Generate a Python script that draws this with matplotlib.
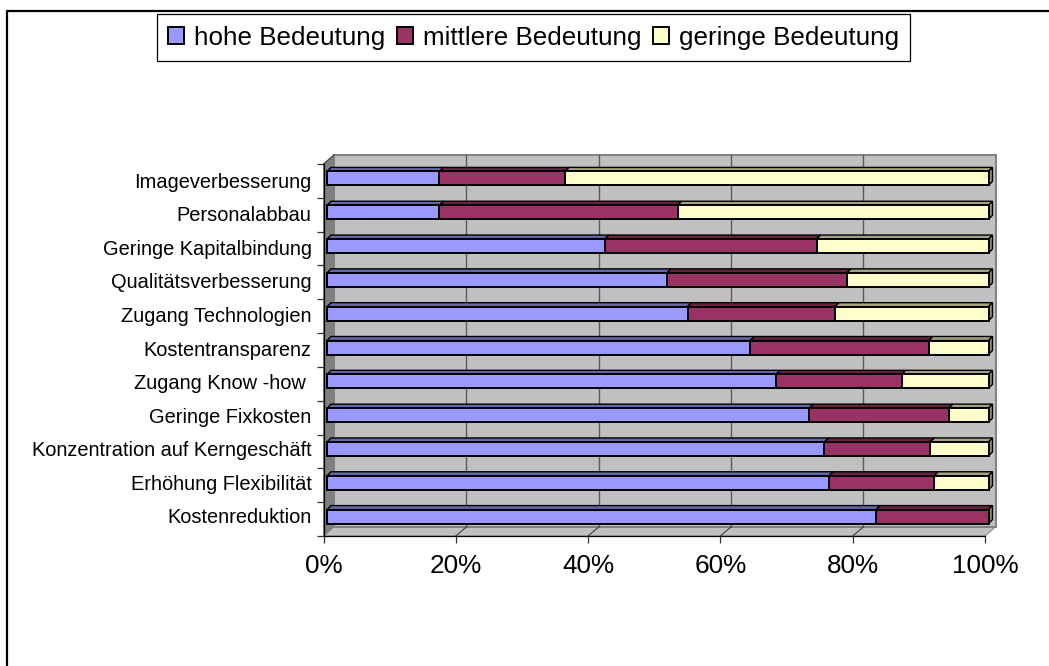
import matplotlib
matplotlib.use("Agg")
import matplotlib.pyplot as plt
from matplotlib.lines import Line2D
from matplotlib.patches import Polygon, Rectangle
from matplotlib.transforms import ScaledTranslation
from matplotlib.ticker import FixedLocator, FixedFormatter
import numpy as np

plt.rcParams['font.family'] = ['Liberation Sans', 'DejaVu Sans']

categories = ["Kostenreduktion", "Erhöhung Flexibilität", "Konzentration auf Kerngeschäft",
              "Geringe Fixkosten", "Zugang Know -how ", "Kostentransparenz",
              "Zugang Technologien", "Qualitätsverbesserung", "Geringe Kapitalbindung",
              "Personalabbau", "Imageverbesserung"]
hohe =     [83, 75.9, 75.2, 72.9, 67.9, 64, 54.5, 51.4, 42, 17, 17]
mittlere = [17, 15.9, 16, 21.1, 19, 27, 22.3, 27.2, 32, 36, 19]
geringe =  [0, 8.2, 8.8, 6, 13.1, 9, 23.2, 21.4, 26, 47, 64]
series_names = ["hohe Bedeutung", "mittlere Bedeutung", "geringe Bedeutung"]
x_ticks = [0, 20, 40, 60, 80, 100]
x_labels = ["0%", "20%", "40%", "60%", "80%", "100%"]

W, H = 1049, 666
fig = plt.figure(figsize=(W / 100, H / 100), dpi=100, facecolor="white")

# outer frame
fig.add_artist(Line2D([6.5 / W, 6.5 / W, 1], [0, 1 - 10.5 / H, 1 - 10.5 / H],
                      color="black", lw=1.6, transform=fig.transFigure))

L, R, T, B = 323.5, 985.0, 164.0, 536.0
ax = fig.add_axes([L / W, 1 - B / H, (R - L) / W, (B - T) / H])
ax.set_xlim(0, 100)
ax.set_ylim(-0.5, len(categories) - 0.5)
ax.patch.set_visible(False)
for s in ("top", "right"):
    ax.spines[s].set_visible(False)
for s in ("left", "bottom"):
    ax.spines[s].set_linewidth(0.9)
    ax.spines[s].set_zorder(6)

ux = 100 / (R - L)
uy = len(categories) / (B - T)
wall_dx, wall_dy = 10.5 * ux, 9.0 * uy
y0, y1 = -0.5, len(categories) - 0.5

# walls and floor
ax.add_patch(Polygon([(0, y0), (wall_dx, y0 + wall_dy), (wall_dx, y1 + wall_dy), (0, y1)],
                     closed=True, fc="#808080", ec="#808080", lw=0.7, clip_on=False, zorder=1))
ax.add_patch(Polygon([(0, y0), (wall_dx, y0 + wall_dy), (100 + wall_dx, y0 + wall_dy), (100, y0)],
                     closed=True, fc="#c0c0c0", ec="#808080", lw=0.7, clip_on=False, zorder=1))
ax.add_patch(Rectangle((wall_dx, y0 + wall_dy), 100, y1 - y0, fc="#c0c0c0", ec="#808080",
                       lw=1.4, clip_on=False, zorder=1))
for t in x_ticks[1:-1]:
    ax.plot([t + wall_dx, t + wall_dx], [y0 + wall_dy, y1 + wall_dy], color="#5a5a5a", lw=1.0,
            clip_on=False, zorder=2)
    ax.plot([t, t + wall_dx], [y0, y0 + wall_dy], color="#404040", lw=0.8, clip_on=False, zorder=2)
ax.plot([0, wall_dx], [y1, y1 + wall_dy], color="#404040", lw=0.8, clip_on=False, zorder=2)

# bars
colors = ["#9999FF", "#993366", "#FFFFCC"]
tops = ["#6468A8", "#66223F", "#A3A382"]
side = "#8F8F6A"
offset = ScaledTranslation(3.5 / 100, 2.5 / 100, fig.dpi_scale_trans)
tr = ax.transData + offset
ypos = np.arange(len(categories))
bar_h = 14 * uy
dep_x, dep_y = 4 * ux, 4 * uy
handles = []
left = np.zeros(len(categories))
for vals, name, c, tc in zip((hohe, mittlere, geringe), series_names, colors, tops):
    vals = np.array(vals, dtype=float)
    bc = ax.barh(ypos, vals, left=left, height=bar_h, color=c, edgecolor="black", linewidth=1.4,
                 label=name, transform=tr, clip_on=False, zorder=4)
    handles.append(bc)
    for y, l, v in zip(ypos, left, vals):
        if v > 0:
            yt = y + bar_h / 2
            ax.add_patch(Polygon([(l, yt), (l + dep_x, yt + dep_y), (l + v + dep_x, yt + dep_y), (l + v, yt)],
                                 closed=True, fc=tc, ec="black", lw=1.0, transform=tr,
                                 clip_on=False, zorder=3.5))
    left = left + vals
for y in ypos:
    yt, yb = y + bar_h / 2, y - bar_h / 2
    ax.add_patch(Polygon([(100, yb), (100 + dep_x, yb + dep_y), (100 + dep_x, yt + dep_y), (100, yt)],
                         closed=True, fc=side, ec="black", lw=1.0, transform=tr,
                         clip_on=False, zorder=3.5))

# axes ticks
ax.set_xticks(x_ticks)
ax.set_xticklabels(x_labels, fontsize=18.8, color="black")
ax.tick_params(axis="x", length=5, width=0.9, pad=8.3, color="#303030")
ax.yaxis.set_major_locator(FixedLocator(np.arange(-0.5, len(categories))))
ax.yaxis.set_major_formatter(FixedFormatter([""] * (len(categories) + 1)))
# category labels sit on baselines slightly tighter than the tick spacing
ax.yaxis.set_minor_locator(FixedLocator(ypos - (4 + 0.3 * ypos) * uy))
ax.yaxis.set_minor_formatter(FixedFormatter(categories))
ax.tick_params(axis="y", which="major", length=5, width=0.9, color="#303030")
ax.tick_params(axis="y", which="minor", length=0, pad=8.6, labelsize=14.4, labelcolor="black")
for lab in ax.yaxis.get_minorticklabels():
    lab.set_verticalalignment("baseline")

# legend
leg = ax.legend(handles=handles, labels=series_names, ncol=3, loc="center",
                bbox_to_anchor=(533.5 / W, 1 - 37.5 / H), bbox_transform=fig.transFigure,
                fontsize=18.7, frameon=True, fancybox=False, edgecolor="black", framealpha=1,
                handlelength=0.6, handleheight=0.6, handletextpad=0.38, columnspacing=0.47,
                borderpad=0.43, borderaxespad=0)
leg.get_frame().set_linewidth(0.9)
leg.set_zorder(10)
for h in leg.legend_handles:
    h.set_linewidth(1.4)

fig.savefig("out.png", dpi=100, facecolor="white")
